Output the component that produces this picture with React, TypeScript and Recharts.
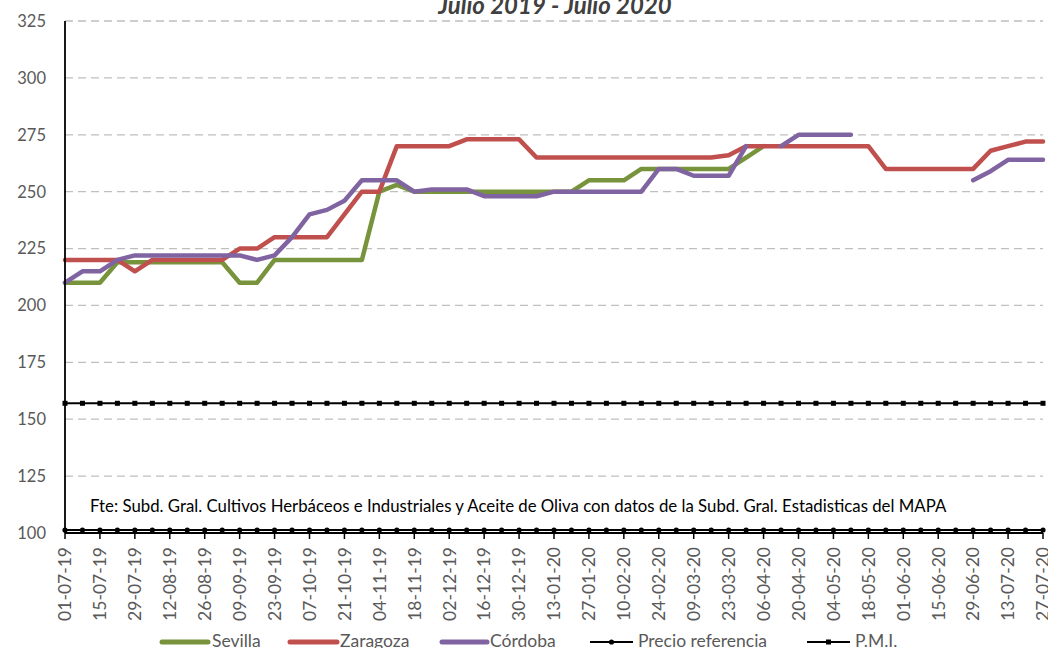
import React from 'react';
import { LineChart, Line, XAxis, YAxis, CartesianGrid } from 'recharts';

const weeks = [
  '01-07-19', '08-07-19', '15-07-19', '22-07-19', '29-07-19', '05-08-19', '12-08-19', '19-08-19', '26-08-19', '02-09-19',
  '09-09-19', '16-09-19', '23-09-19', '30-09-19', '07-10-19', '14-10-19', '21-10-19', '28-10-19', '04-11-19', '11-11-19',
  '18-11-19', '25-11-19', '02-12-19', '09-12-19', '16-12-19', '23-12-19', '30-12-19', '06-01-20', '13-01-20', '20-01-20',
  '27-01-20', '03-02-20', '10-02-20', '17-02-20', '24-02-20', '02-03-20', '09-03-20', '16-03-20', '23-03-20', '30-03-20',
  '06-04-20', '13-04-20', '20-04-20', '27-04-20', '04-05-20', '11-05-20', '18-05-20', '25-05-20', '01-06-20', '08-06-20',
  '15-06-20', '22-06-20', '29-06-20', '06-07-20', '13-07-20', '20-07-20', '27-07-20',
];

const sevilla = [
  210, 210, 210, 219, 219, 219, 219, 219, 219, 219,
  210, 210, 220, 220, 220, 220, 220, 220, 250, 253,
  250, 250, 250, 250, 250, 250, 250, 250, 250, 250,
  255, 255, 255, 260, 260, 260, 260, 260, 260, 265,
  270, null, null, null, null, null, null, null, null, null,
  null, null, null, null, null, null, null,
];

const zaragoza = [
  220, 220, 220, 220, 215, 220, 220, 220, 220, 220,
  225, 225, 230, 230, 230, 230, 240, 250, 250, 270,
  270, 270, 270, 273, 273, 273, 273, 265, 265, 265,
  265, 265, 265, 265, 265, 265, 265, 265, 266, 270,
  270, 270, 270, 270, 270, 270, 270, 260, 260, 260,
  260, 260, 260, 268, 270, 272, 272,
];

const cordoba = [
  210, 215, 215, 220, 222, 222, 222, 222, 222, 222,
  222, 220, 222, 230, 240, 242, 246, 255, 255, 255,
  250, 251, 251, 251, 248, 248, 248, 248, 250, 250,
  250, 250, 250, 250, 260, 260, 257, 257, 257, 270,
  null, 270, 275, 275, 275, 275, null, null, null, null,
  null, null, 255, 259, 264, 264, 264,
];

const precioReferencia = [
  101.31, 101.31, 101.31, 101.31, 101.31, 101.31, 101.31, 101.31, 101.31, 101.31,
  101.31, 101.31, 101.31, 101.31, 101.31, 101.31, 101.31, 101.31, 101.31, 101.31,
  101.31, 101.31, 101.31, 101.31, 101.31, 101.31, 101.31, 101.31, 101.31, 101.31,
  101.31, 101.31, 101.31, 101.31, 101.31, 101.31, 101.31, 101.31, 101.31, 101.31,
  101.31, 101.31, 101.31, 101.31, 101.31, 101.31, 101.31, 101.31, 101.31, 101.31,
  101.31, 101.31, 101.31, 101.31, 101.31, 101.31, 101.31,
];

const pmi = [
  157, 157, 157, 157, 157, 157, 157, 157, 157, 157,
  157, 157, 157, 157, 157, 157, 157, 157, 157, 157,
  157, 157, 157, 157, 157, 157, 157, 157, 157, 157,
  157, 157, 157, 157, 157, 157, 157, 157, 157, 157,
  157, 157, 157, 157, 157, 157, 157, 157, 157, 157,
  157, 157, 157, 157, 157, 157, 157,
];

const yTicks = [100, 125, 150, 175, 200, 225, 250, 275, 300, 325];

const seriesNames = ['Sevilla', 'Zaragoza', 'Córdoba', 'Precio referencia', 'P.M.I.'];
const seriesColors = ['#77933C', '#C0504D', '#8064A2', '#000000', '#000000'];

const titleText = 'Julio 2019 - Julio 2020';
const sourceText =
  'Fte: Subd. Gral. Cultivos Herbáceos e Industriales y Aceite de Oliva con datos de la Subd. Gral. Estadisticas del MAPA';

const data = weeks.map((w, i) => ({
  week: w,
  sevilla: sevilla[i],
  zaragoza: zaragoza[i],
  cordoba: cordoba[i],
  ref: precioReferencia[i],
  pmi: pmi[i],
}));

const FONT = 'Lato, "Open Sans", sans-serif';

const XTick = (props: any) => {
  const { x, y, payload } = props;
  return (
    <g transform={`translate(${x},${y})`}>
      <text
        transform="rotate(-90)"
        x={-6}
        y={0}
        dy="0.36em"
        textAnchor="end"
        fill="#595959"
        fontSize={17.5}
        fontFamily={FONT}
      >
        {payload.value}
      </text>
    </g>
  );
};

const YTick = (props: any) => {
  const { x, y, payload } = props;
  return (
    <text x={x - 11} y={y} dy="0.36em" textAnchor="end" fill="#595959" fontSize={16.5} fontFamily={FONT}>
      {payload.value}
    </text>
  );
};

const RoundDot = (props: any) => {
  const { cx, cy, index } = props;
  if (cx == null || cy == null) return <g key={`rd-${index}`} />;
  return <circle key={`rd-${index}`} cx={cx} cy={cy} r={2.6} fill="#000" />;
};

const SquareDot = (props: any) => {
  const { cx, cy, index } = props;
  if (cx == null || cy == null) return <g key={`sd-${index}`} />;
  return <rect key={`sd-${index}`} x={cx - 2.5} y={cy - 2.5} width={5} height={5} fill="#000" />;
};

const legendItems = [
  { lineX1: 162, lineX2: 208, textX: 212, kind: 'thick' },
  { lineX1: 290, lineX2: 337, textX: 340, kind: 'thick' },
  { lineX1: 442, lineX2: 487, textX: 490, kind: 'thick' },
  { lineX1: 590, lineX2: 633, textX: 638, kind: 'round' },
  { lineX1: 807, lineX2: 850, textX: 855, kind: 'square' },
];

export default function App() {
  return (
    <div
      style={{
        position: 'absolute',
        left: 0,
        top: 0,
        width: 1048,
        height: 648,
        background: '#fff',
        overflow: 'hidden',
        fontFamily: FONT,
      }}
    >
      <LineChart width={1048} height={648} data={data} margin={{ top: 21, right: 5, left: 0, bottom: 35 }}>
        <CartesianGrid vertical={false} stroke="#BFBFBF" strokeDasharray="8 5" strokeWidth={1.3} />
        <XAxis
          dataKey="week"
          interval={1}
          height={80}
          tick={<XTick />}
          tickSize={6}
          tickLine={{ stroke: '#000', strokeWidth: 1.5 }}
          axisLine={{ stroke: '#000', strokeWidth: 1.8 }}
        />
        <YAxis
          width={65}
          domain={[100, 325]}
          ticks={yTicks}
          tickLine={false}
          axisLine={{ stroke: '#000', strokeWidth: 1.8 }}
          tick={<YTick />}
          allowDataOverflow
        />
        <Line
          dataKey="sevilla"
          name={seriesNames[0]}
          stroke={seriesColors[0]}
          strokeWidth={4.5}
          dot={false}
          activeDot={false}
          strokeLinecap="round"
          strokeLinejoin="round"
          isAnimationActive={false}
        />
        <Line
          dataKey="zaragoza"
          name={seriesNames[1]}
          stroke={seriesColors[1]}
          strokeWidth={4.5}
          dot={false}
          activeDot={false}
          strokeLinecap="round"
          strokeLinejoin="round"
          isAnimationActive={false}
        />
        <Line
          dataKey="cordoba"
          name={seriesNames[2]}
          stroke={seriesColors[2]}
          strokeWidth={4.5}
          dot={false}
          activeDot={false}
          strokeLinecap="round"
          strokeLinejoin="round"
          isAnimationActive={false}
        />
        <Line
          dataKey="ref"
          name={seriesNames[3]}
          stroke={seriesColors[3]}
          strokeWidth={2}
          dot={<RoundDot />}
          activeDot={false}
          isAnimationActive={false}
        />
        <Line
          dataKey="pmi"
          name={seriesNames[4]}
          stroke={seriesColors[4]}
          strokeWidth={2}
          dot={<SquareDot />}
          activeDot={false}
          isAnimationActive={false}
        />
      </LineChart>
      <svg
        width={1048}
        height={648}
        style={{ position: 'absolute', left: 0, top: 0, pointerEvents: 'none' }}
      >
        <text
          x={555}
          y={13.5}
          textAnchor="middle"
          fontStyle="italic"
          fontWeight="bold"
          fontSize={24}
          fill="#404040"
          fontFamily={FONT}
        >
          {titleText}
        </text>
        <text x={90} y={511.5} fontSize={16.8} fill="#000" fontFamily={FONT}>
          {sourceText}
        </text>
        {legendItems.map((it, i) => (
          <g key={i}>
            <line
              x1={it.lineX1}
              x2={it.lineX2}
              y1={642}
              y2={642}
              stroke={seriesColors[i]}
              strokeWidth={it.kind === 'thick' ? 5 : 2}
              strokeLinecap={it.kind === 'thick' ? 'round' : 'butt'}
            />
            {it.kind === 'round' && (
              <circle cx={(it.lineX1 + it.lineX2) / 2} cy={642} r={2.6} fill="#000" />
            )}
            {it.kind === 'square' && (
              <rect x={(it.lineX1 + it.lineX2) / 2 - 2.5} y={639.5} width={5} height={5} fill="#000" />
            )}
            <text x={it.textX} y={647} fontSize={17.5} fill="#595959" fontFamily={FONT}>
              {seriesNames[i]}
            </text>
          </g>
        ))}
      </svg>
    </div>
  );
}
